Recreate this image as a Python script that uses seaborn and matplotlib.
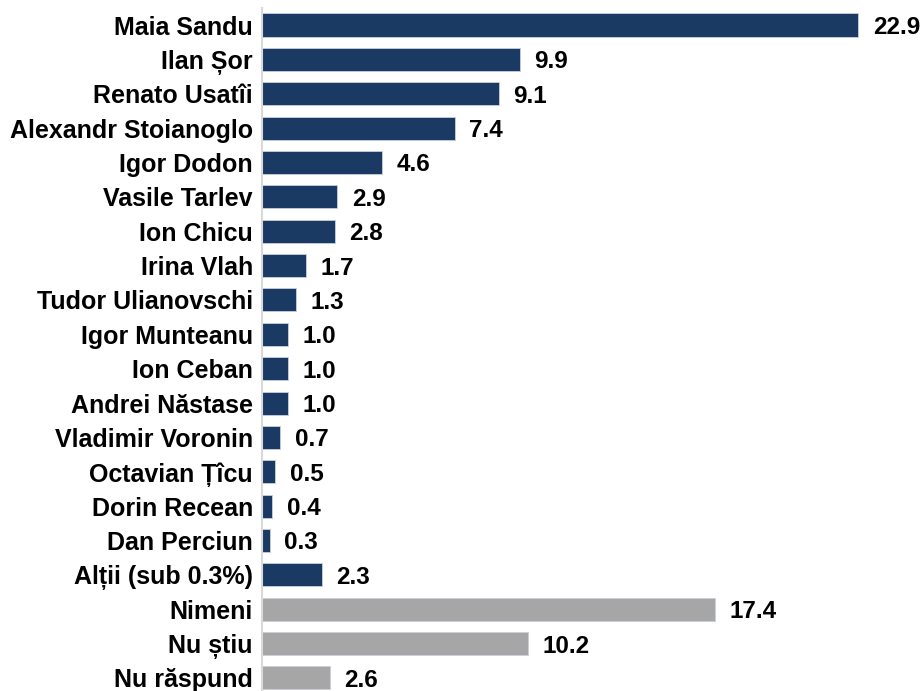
import matplotlib
matplotlib.use("Agg")
import matplotlib.pyplot as plt
import seaborn as sns
import pandas as pd

# Data (%)
names = ["Maia Sandu", "Ilan Șor", "Renato Usatîi", "Alexandr Stoianoglo", "Igor Dodon",
         "Vasile Tarlev", "Ion Chicu", "Irina Vlah", "Tudor Ulianovschi", "Igor Munteanu",
         "Ion Ceban", "Andrei Năstase", "Vladimir Voronin", "Octavian Țîcu", "Dorin Recean",
         "Dan Perciun", "Alții (sub 0.3%)", "Nimeni", "Nu știu", "Nu răspund"]
values = [22.9, 9.9, 9.1, 7.4, 4.6, 2.9, 2.8, 1.7, 1.3, 1.0,
          1.0, 1.0, 0.7, 0.5, 0.4, 0.3, 2.3, 17.4, 10.2, 2.6]
groups = ["cand"] * 17 + ["other"] * 3

df = pd.DataFrame({"name": names, "value": values, "group": groups})

sns.set_theme(style="white")
plt.rcParams["font.family"] = ["Liberation Sans", "DejaVu Sans"]

fig = plt.figure(figsize=(9.23, 6.91), dpi=100)
ax = fig.add_axes([262 / 923, 0, 661 / 923, 1 - 8 / 691])

sns.barplot(data=df, x="value", y="name", hue="group", dodge=False, legend=False,
            palette={"cand": "#1B3A63", "other": "#A6A6A6"}, saturation=1,
            width=0.67, edgecolor="#C8D0DC", linewidth=0.6, ax=ax)

# value labels to the right of each bar
for c in ax.containers:
    labels = ax.bar_label(c, fmt="%.1f", padding=10.5, fontsize=17.5,
                          fontweight="bold", color="black")
    for lab in labels:
        lab.set_verticalalignment("center_baseline")

ax.set_xlim(0, 25.39)
ax.set_ylim(19.38, -0.495)
ax.set_xlabel("")
ax.set_ylabel("")
ax.set_xticks([])
for s in ["top", "right", "bottom"]:
    ax.spines[s].set_visible(False)
ax.spines["left"].set_color("#D9D9D9")
ax.spines["left"].set_linewidth(1.5)
ax.tick_params(axis="y", length=0, pad=6.5)
for t in ax.get_yticklabels():
    t.set_fontsize(18)
    t.set_fontweight("bold")
    t.set_color("black")

fig.savefig("out.png", dpi=100)
